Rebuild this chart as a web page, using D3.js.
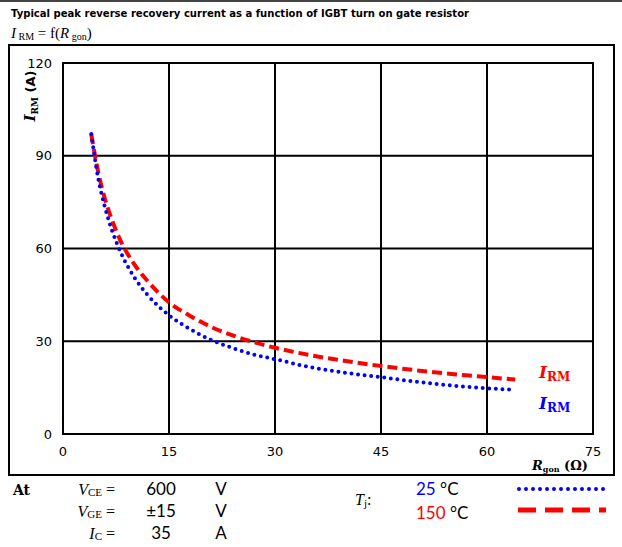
<!DOCTYPE html>
<html><head><meta charset="utf-8">
<script src="https://cdn.jsdelivr.net/npm/d3@7"></script>
<style>body{margin:0;background:#fff}svg{display:block}</style>
</head><body>
<script>
// ---- data ----
const rgon = [4, 5, 6, 7, 8, 10, 12, 15, 18, 21, 24, 27, 30, 35, 40, 45, 50, 55, 60, 64];
const irm150 = [97, 84.5, 75.5, 68.8, 63.2, 55.2, 49.4, 42.6, 38.2, 34.6, 31.9, 29.7, 27.9, 25.5, 23.6, 22.0, 20.6, 19.4, 18.4, 17.6];
const irm25  = [97, 82.5, 72.8, 65.4, 59.6, 51.0, 44.9, 38.4, 33.9, 30.4, 27.8, 25.7, 24.2, 21.6, 19.8, 18.4, 16.9, 15.7, 14.8, 14.3];
const xTicks = [0, 15, 30, 45, 60, 75];
const yTicks = [0, 30, 60, 90, 120];

const W = 622, H = 547;
const svg = d3.select("body").append("svg").attr("width", W).attr("height", H);

const x = d3.scaleLinear().domain([0, 75]).range([63, 593]);
const y = d3.scaleLinear().domain([0, 120]).range([434, 63]);

// top gray rule
svg.append("line").attr("x1", 0).attr("x2", W).attr("y1", 1).attr("y2", 1)
  .attr("stroke", "#444").attr("stroke-width", 2);

// title
svg.append("text").attr("x", 11).attr("y", 17)
  .attr("font-family", "DejaVu Sans").attr("font-weight", "bold").attr("font-size", 10)
  .attr("textLength", 458).attr("lengthAdjust", "spacingAndGlyphs")
  .text("Typical peak reverse recovery current as a function of IGBT turn on gate resistor");

// formula
const f = svg.append("text").attr("x", 11).attr("y", 38)
  .attr("font-family", "Liberation Serif").attr("font-size", 15);
f.append("tspan").attr("font-style", "italic").text("I");
f.append("tspan").attr("font-size", 10).attr("dy", 2).text(" RM");
f.append("tspan").attr("dy", -2).text(" = f(");
f.append("tspan").attr("font-style", "italic").text("R");
f.append("tspan").attr("font-size", 10).attr("dy", 2).text(" gon");
f.append("tspan").attr("dy", -2).text(")");

// outer frame
svg.append("rect").attr("x", 9).attr("y", 45).attr("width", 605).attr("height", 430)
  .attr("fill", "none").attr("stroke", "#000").attr("stroke-width", 2);

// grid
const g = svg.append("g");
g.selectAll(".vx").data(xTicks).join("line")
  .attr("x1", d => x(d)).attr("x2", d => x(d)).attr("y1", y(0)).attr("y2", y(120))
  .attr("stroke", "#000").attr("stroke-width", 2);
g.selectAll(".hy").data(yTicks).join("line")
  .attr("x1", x(0)).attr("x2", x(75)).attr("y1", d => y(d)).attr("y2", d => y(d))
  .attr("stroke", "#000").attr("stroke-width", 2);
svg.append("rect").attr("x", x(0)).attr("y", y(120)).attr("width", x(75) - x(0)).attr("height", y(0) - y(120))
  .attr("fill", "none").attr("stroke", "#000").attr("stroke-width", 2);

// tick labels
svg.selectAll(".yt").data(yTicks).join("text")
  .attr("x", 52).attr("y", d => y(d)).attr("dy", "0.36em").attr("text-anchor", "end")
  .attr("font-family", "DejaVu Sans").attr("font-size", 13).text(d => d);
svg.selectAll(".xt").data(xTicks).join("text")
  .attr("x", d => x(d)).attr("y", 456).attr("text-anchor", "middle")
  .attr("font-family", "DejaVu Sans").attr("font-size", 13).text(d => d);

// axis titles
const yl = svg.append("text").attr("transform", "translate(35,96) rotate(-90)")
  .attr("text-anchor", "middle").attr("font-weight", "bold").attr("font-size", 15)
  .attr("font-family", "DejaVu Serif");
yl.append("tspan").attr("font-style", "italic").text("I");
yl.append("tspan").attr("font-size", 9).attr("dy", 3).text("RM");
yl.append("tspan").attr("dy", -3).attr("font-family", "DejaVu Sans").attr("font-size", 13).text(" (A)");

const xl = svg.append("text").attr("x", 588).attr("y", 470).attr("text-anchor", "end")
  .attr("font-weight", "bold").attr("font-size", 13).attr("font-family", "DejaVu Serif");
xl.append("tspan").attr("font-style", "italic").text("R");
xl.append("tspan").attr("font-size", 8).attr("dy", 2).text("gon");
xl.append("tspan").attr("dy", -2).text(" (Ω)");

// curves
const line = d3.line().x(d => x(d[0])).y(d => y(d[1])).curve(d3.curveMonotoneX);
svg.append("path").datum(rgon.map((r, i) => [r, irm150[i]]))
  .attr("d", line).attr("fill", "none").attr("stroke", "#ff0000")
  .attr("stroke-width", 4).attr("stroke-dasharray", "10 5");
svg.append("path").datum(rgon.map((r, i) => [r, irm25[i]]))
  .attr("d", line).attr("fill", "none").attr("stroke", "#0000ff")
  .attr("stroke-width", 4).attr("stroke-linecap", "round").attr("stroke-dasharray", "0 6.6");

// in-plot labels
function irmLabel(yy, col) {
  const t = svg.append("text").attr("x", 539).attr("y", yy).attr("fill", col)
    .attr("font-family", "DejaVu Serif").attr("font-weight", "bold").attr("font-size", 17);
  t.append("tspan").attr("font-style", "italic").text("I");
  t.append("tspan").attr("font-size", 12).attr("dy", 3).text("RM");
}
irmLabel(378, "#ff0000");
irmLabel(409, "#0000ff");

// bottom conditions
svg.append("text").attr("x", 13).attr("y", 495).attr("font-family", "DejaVu Serif")
  .attr("font-weight", "bold").attr("font-size", 14).text("At");
const conds = [["V", "CE", "600", "V"], ["V", "GE", "±15", "V"], ["I", "C", "35", "A"]];
conds.forEach((c, i) => {
  const yy = 495 + i * 22;
  const t = svg.append("text").attr("x", 115).attr("y", yy).attr("text-anchor", "end")
    .attr("font-family", "Liberation Serif").attr("font-size", 16);
  t.append("tspan").attr("font-style", "italic").text(c[0]);
  t.append("tspan").attr("font-size", 11).attr("dy", 1).text(c[1]);
  t.append("tspan").attr("dy", -1).text(" =");
  svg.append("text").attr("x", 161).attr("y", yy).attr("text-anchor", "middle")
    .attr("font-family", "Lato").attr("font-size", 17).text(c[2]);
  svg.append("text").attr("x", 221).attr("y", yy).attr("text-anchor", "middle")
    .attr("font-family", "Lato").attr("font-size", 17).text(c[3]);
});
const tj = svg.append("text").attr("x", 355).attr("y", 505)
  .attr("font-family", "Liberation Serif").attr("font-size", 16);
tj.append("tspan").attr("font-style", "italic").text("T");
tj.append("tspan").attr("font-size", 11).attr("dy", 2).text("j");
tj.append("tspan").attr("dy", -2).text(":");

const temps = [["25", "#0000ff", 495], ["150", "#ff0000", 519]];
temps.forEach(t => {
  const e = svg.append("text").attr("x", 416).attr("y", t[2]).attr("font-family", "Lato").attr("font-size", 17);
  e.append("tspan").attr("fill", t[1]).text(t[0]);
  e.append("tspan").attr("fill", "#000").text(" °C");
});

// legend lines
svg.append("line").attr("x1", 519).attr("x2", 608).attr("y1", 489).attr("y2", 489)
  .attr("stroke", "#0000ff").attr("stroke-width", 4).attr("stroke-linecap", "round").attr("stroke-dasharray", "0 7");
svg.append("line").attr("x1", 518).attr("x2", 606).attr("y1", 510).attr("y2", 510)
  .attr("stroke", "#ff0000").attr("stroke-width", 5).attr("stroke-dasharray", "18 9");
</script>
</body></html>
